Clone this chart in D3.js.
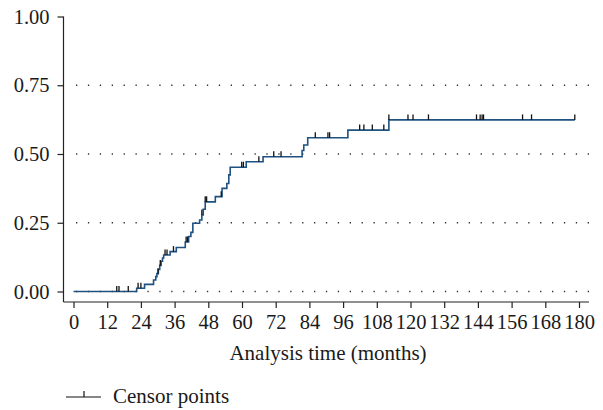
<!DOCTYPE html>
<html>
<head>
<meta charset="utf-8">
<script src="https://cdn.jsdelivr.net/npm/d3@7"></script>
<style>
  html, body { margin: 0; padding: 0; background: #fff; }
  svg { display: block; }
  text { font-family: "Liberation Serif", "Times New Roman", serif; fill: #1a1a1a; }
</style>
</head>
<body>
<svg id="chart" width="603" height="410"></svg>
<script>
// ---- Data ----
const eventTimes = [0, 22.5, 25.3, 28.5, 29.3, 29.7, 30.2, 30.7, 31.2, 31.7, 32.1, 34.4, 36.6, 39.8, 41.0, 41.8, 42.5, 44.9, 45.7, 46.2, 46.9, 50.5, 52.9, 54.6, 55.3, 55.8, 61.5, 67.5, 81.4, 82.0, 83.4, 97.7, 112.3];
const cumIncidence = [0, 0.012, 0.026, 0.042, 0.054, 0.065, 0.08, 0.095, 0.11, 0.122, 0.133, 0.145, 0.16, 0.18, 0.20, 0.215, 0.248, 0.26, 0.278, 0.299, 0.326, 0.345, 0.375, 0.393, 0.424, 0.452, 0.472, 0.49, 0.513, 0.533, 0.559, 0.587, 0.624];
const endTime = 178.5;
const censorTimes = [15.4, 16.2, 19.5, 23.0, 24.0, 30.1, 30.9, 32.6, 33.3, 35.6, 40.1, 40.6, 45.7, 46.9, 47.4, 52.6, 59.9, 60.5, 66.0, 71.3, 73.9, 86.1, 90.6, 91.2, 101.9, 103.4, 106.4, 110.5, 112.3, 119.1, 120.9, 126.4, 143.5, 144.8, 145.5, 146.0, 159.9, 163.1, 178.5];
const xTicks = [0, 12, 24, 36, 48, 60, 72, 84, 96, 108, 120, 132, 144, 156, 168, 180];
const yTicks = [0, 0.25, 0.5, 0.75, 1];
const gridValues = [0, 0.25, 0.5, 0.75];
const xTitle = "Analysis time (months)";
const legendLabel = "Censor points";

// ---- Layout ----
const svg = d3.select("#chart");
const x = d3.scaleLinear().domain([0, 180]).range([73.5, 579]);
const y = d3.scaleLinear().domain([0, 1]).range([291.5, 16.5]);
const axisLeftX = 63.5;
const axisBottomY = 302;
const plotRight = 589;

const tickFont = 20.5;
const titleFont = 21;

// gridlines (dotted)
svg.append("g").selectAll("line").data(gridValues).join("line")
  .attr("x1", 76).attr("x2", plotRight)
  .attr("y1", d => y(d)).attr("y2", d => y(d))
  .attr("stroke", "#333").attr("stroke-width", 1.3)
  .attr("stroke-dasharray", "1.3 10.6");

// y axis
const yAxis = d3.axisLeft(y).tickValues(yTicks).tickFormat(d3.format(".2f")).tickSize(6).tickPadding(8);
const gy = svg.append("g").attr("transform", `translate(${axisLeftX},0)`).call(yAxis);
gy.select(".domain").attr("d", `M0,${y(1)}V${axisBottomY}`);

// x axis
const xAxis = d3.axisBottom(x).tickValues(xTicks).tickFormat(d3.format("d")).tickSize(6).tickPadding(6);
const gx = svg.append("g").attr("transform", `translate(0,${axisBottomY})`).call(xAxis);
gx.select(".domain").attr("d", `M${axisLeftX},0H${plotRight}`);

[gx, gy].forEach(g => {
  g.selectAll(".domain, .tick line").attr("stroke", "#222").attr("stroke-width", 1.2);
  g.selectAll("text").attr("font-size", tickFont).attr("font-family", "Liberation Serif, serif").attr("fill", "#1a1a1a");
});

// x title
svg.append("text").attr("x", 328).attr("y", 360).attr("text-anchor", "middle")
  .attr("font-size", titleFont).text(xTitle);

// step curve
const pts = eventTimes.map((t, i) => [t, cumIncidence[i]]);
pts.push([endTime, cumIncidence[cumIncidence.length - 1]]);
const line = d3.line().x(d => x(d[0])).y(d => y(d[1])).curve(d3.curveStepAfter);
svg.append("path").datum(pts).attr("d", line)
  .attr("fill", "none").attr("stroke", "#1f5181").attr("stroke-width", 1.6);

// censor ticks
const valueAt = t => {
  let v = 0;
  for (let i = 0; i < eventTimes.length; i++) if (eventTimes[i] <= t) v = cumIncidence[i];
  return v;
};
svg.append("g").selectAll("line").data(censorTimes).join("line")
  .attr("x1", d => x(d)).attr("x2", d => x(d))
  .attr("y1", d => y(valueAt(d))).attr("y2", d => y(valueAt(d)) - 5.5)
  .attr("stroke", "#111").attr("stroke-width", 1.3);

// legend
const lg = svg.append("g");
lg.append("line").attr("x1", 66).attr("x2", 101).attr("y1", 397).attr("y2", 397)
  .attr("stroke", "#111").attr("stroke-width", 1.2);
lg.append("line").attr("x1", 84).attr("x2", 84).attr("y1", 397).attr("y2", 391)
  .attr("stroke", "#111").attr("stroke-width", 1.2);
lg.append("text").attr("x", 113).attr("y", 403).attr("font-size", titleFont).text(legendLabel);
</script>
</body>
</html>
